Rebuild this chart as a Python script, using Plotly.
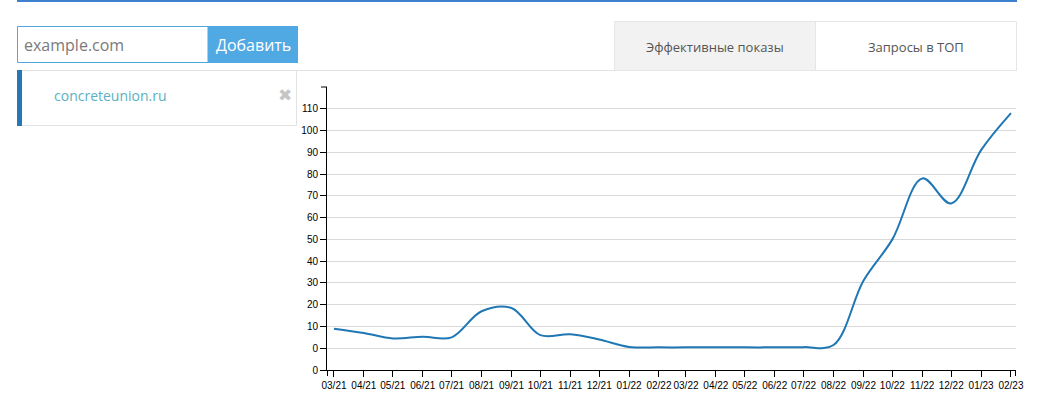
import plotly.graph_objects as go

# ---- data ----
months = ["2021-03-01", "2021-04-01", "2021-05-01", "2021-06-01", "2021-07-01", "2021-08-01",
          "2021-09-01", "2021-10-01", "2021-11-01", "2021-12-01", "2022-01-01", "2022-02-01",
          "2022-03-01", "2022-04-01", "2022-05-01", "2022-06-01", "2022-07-01", "2022-08-01",
          "2022-09-01", "2022-10-01", "2022-11-01", "2022-12-01", "2023-01-01", "2023-02-01"]
values = [9, 7, 4.5, 5.3, 5, 17, 18.5, 6, 6.4, 4, 0.6, 0.4,
          0.4, 0.4, 0.4, 0.4, 0.5, 1.5, 31, 50, 78, 66.5, 91, 108]
y_tickvals = [-10, 0, 10, 20, 30, 40, 50, 60, 70, 80, 90, 100, 110]
y_ticktext = ["0", "0", "10", "20", "30", "40", "50", "60", "70", "80", "90", "100", "110"]
x_range = ["2021-02-21 18:00", "2023-02-06 05:00"]
y_range = [-10, 120]

domain_input = "example.com"
add_button = "Добавить"
site_name = "concreteunion.ru"
tab_labels = ["Эффективные показы", "Запросы в ТОП"]

# ---- layout geometry (pixels) ----
W, H = 1043, 408
L, R, T, B = 327, 27, 87, 38
PW, PH = W - L - R, H - T - B


def fx(px):
    return (px - L) / PW


def fy(py):
    return 1 - (py - T) / PH


fig = go.Figure()
fig.add_trace(go.Scatter(
    x=months, y=values, mode="lines",
    line=dict(color="#1f77b4", width=2, shape="spline", smoothing=1.0),
    hoverinfo="skip", showlegend=False,
))

shapes = []


def rect(x0, y0, x1, y1, fill="rgba(0,0,0,0)", line_color=None, lw=1):
    shapes.append(dict(type="rect", xref="paper", yref="paper",
                       x0=fx(x0), x1=fx(x1), y0=fy(y0), y1=fy(y1),
                       fillcolor=fill,
                       line=dict(color=line_color or "rgba(0,0,0,0)", width=lw if line_color else 0),
                       layer="above"))


def hline(x0, x1, y, color, lw=1):
    shapes.append(dict(type="line", xref="paper", yref="paper",
                       x0=fx(x0), x1=fx(x1), y0=fy(y), y1=fy(y),
                       line=dict(color=color, width=lw), layer="above"))


def vline(x, y0, y1, color, lw=1):
    shapes.append(dict(type="line", xref="paper", yref="paper",
                       x0=fx(x), x1=fx(x), y0=fy(y0), y1=fy(y1),
                       line=dict(color=color, width=lw), layer="above"))


# top blue rule
hline(17, 1017, 1, "#3f7fcf", 2)
# input + button
rect(17.5, 26.5, 208, 62.5, fill="white", line_color="#4fa6e1")
rect(208, 26, 298, 63, fill="#51a9e4")
# separator line along top of content
hline(17, 1017, 70.5, "#e3e3e3")
# left panel
rect(17.5, 70.5, 296.5, 125.5, fill="white", line_color="#e3e3e3")
rect(17, 70, 22, 126, fill="#2577b5")
# tabs
rect(614.5, 21.5, 1016.5, 70.5, fill="white", line_color="#e6e6e6")
rect(615, 22, 815.5, 70, fill="#f2f2f2")
vline(815.5, 21.5, 70.5, "#e6e6e6")
# outer ticks of axes
hline(321, 327, T, "black")
vline(L + 0.5, 370, 376, "black")
vline(W - R - 0.5, 370, 376, "black")

annotations = [
    dict(text=domain_input, x=fx(22), y=fy(44.5), xanchor="left", yanchor="middle",
         font=dict(family="Open Sans", size=16, color="#7a7a7a")),
    dict(text=add_button, x=fx(253), y=fy(44.5), xanchor="center", yanchor="middle",
         font=dict(family="Open Sans", size=16, color="white")),
    dict(text=site_name, x=fx(52), y=fy(95.5), xanchor="left", yanchor="middle",
         font=dict(family="Open Sans", size=14, color="#5bb1c1")),
    dict(text="✖", x=fx(284.5), y=fy(95), xanchor="center", yanchor="middle",
         font=dict(family="DejaVu Sans", size=17, color="#c6c6c6")),
    dict(text=tab_labels[0], x=fx(715), y=fy(46.5), xanchor="center", yanchor="middle",
         font=dict(family="Open Sans", size=13, color="#555555")),
    dict(text=tab_labels[1], x=fx(916), y=fy(46.5), xanchor="center", yanchor="middle",
         font=dict(family="Open Sans", size=13, color="#555555")),
]
for a in annotations:
    a.update(xref="paper", yref="paper", showarrow=False)

fig.update_layout(
    width=W, height=H,
    margin=dict(l=L, r=R, t=T, b=B, pad=0),
    paper_bgcolor="white", plot_bgcolor="white",
    shapes=shapes, annotations=annotations,
    font=dict(family="Liberation Sans, Arial", size=10, color="black"),
    xaxis=dict(type="date", range=x_range, tickvals=months, tickformat="%m/%y", tickangle=0,
               showgrid=False, zeroline=False, showline=True, linecolor="black", linewidth=1,
               ticks="outside", ticklen=6, tickcolor="black", tickwidth=1,
               tickfont=dict(family="Liberation Sans, Arial", size=10, color="black"),
               fixedrange=True),
    yaxis=dict(range=y_range, tickvals=y_tickvals, ticktext=y_ticktext,
               showgrid=True, gridcolor="#d9d9d9", gridwidth=1, zeroline=False,
               showline=True, linecolor="black", linewidth=1,
               ticks="outside", ticklen=6, tickcolor="black", tickwidth=1,
               tickfont=dict(family="Liberation Sans, Arial", size=10, color="black"),
               fixedrange=True),
)

fig.write_html("out.html", config={"displayModeBar": False},
               post_script="document.body.style.margin='0';document.body.style.padding='0';document.body.style.overflow='hidden';")
